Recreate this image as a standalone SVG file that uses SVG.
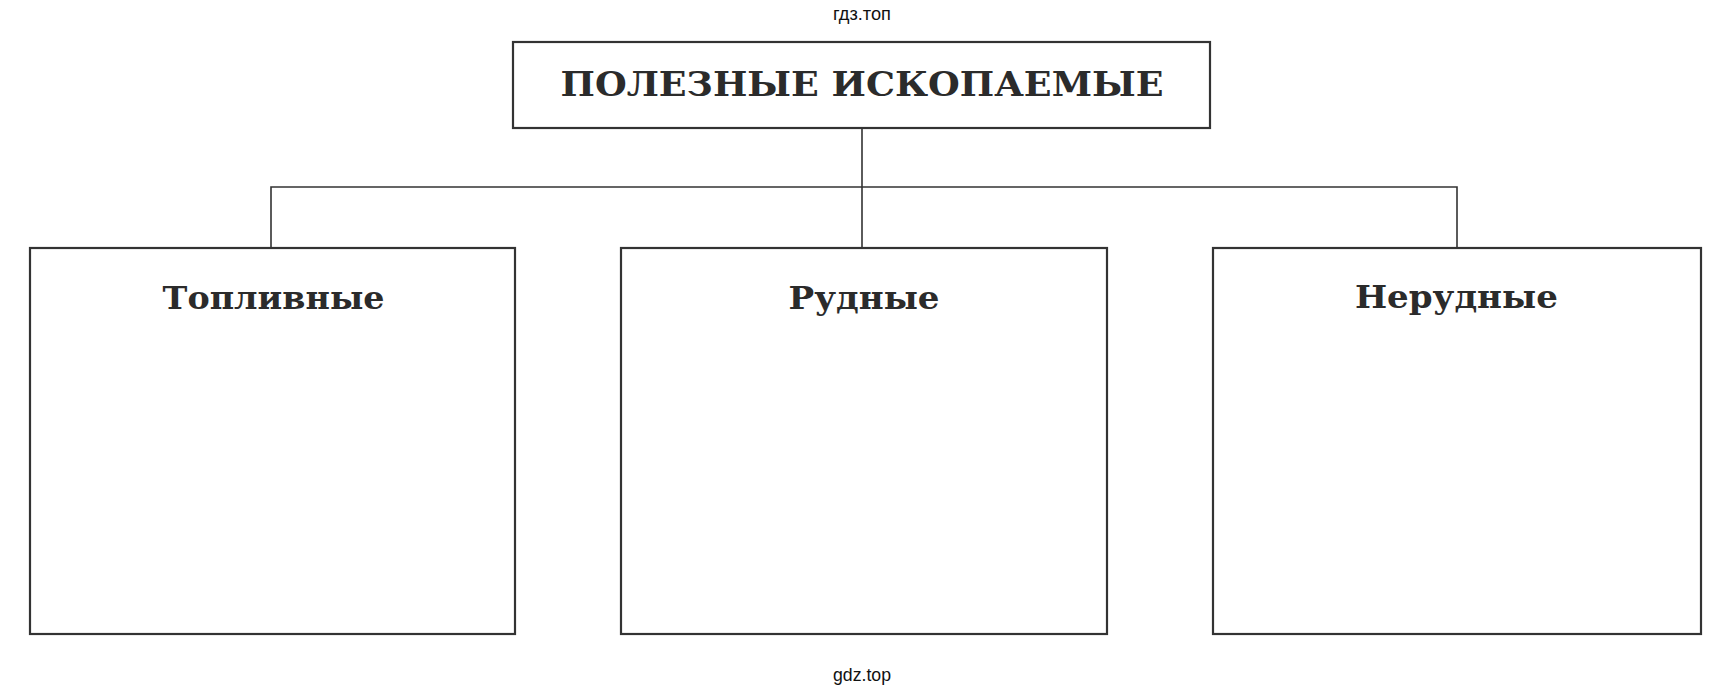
<svg xmlns="http://www.w3.org/2000/svg" width="1726" height="695" viewBox="0 0 1726 695">
<style>
.box{fill:#fff;stroke:#333;stroke-width:2.2}
.conn{fill:none;stroke:#333;stroke-width:1.6}
.t{font-family:"DejaVu Serif","Liberation Serif",serif;font-weight:bold;fill:#2b2b2b;text-anchor:middle}
.w{font-family:"Liberation Sans",Arial,sans-serif;font-size:18px;fill:#111;text-anchor:middle}
</style>
<rect width="1726" height="695" fill="#fff"/>
<text class="w" x="862" y="20" textLength="58" lengthAdjust="spacingAndGlyphs">гдз.топ</text>
<g id="connectors">
<path class="conn" d="M862 128 V187"/>
<path class="conn" d="M271 248 V187 H1457 V248"/>
<path class="conn" d="M862 187 V248"/>
</g>
<g id="root">
<rect class="box" x="513" y="42" width="697" height="86"/>
<text class="t" x="862" y="96" font-size="34" textLength="603" lengthAdjust="spacingAndGlyphs">ПОЛЕЗНЫЕ ИСКОПАЕМЫЕ</text>
</g>
<g id="fuel">
<rect class="box" x="30" y="248" width="485" height="386"/>
<text class="t" x="273.6" y="309" font-size="32" textLength="222" lengthAdjust="spacingAndGlyphs">Топливные</text>
</g>
<g id="ore">
<rect class="box" x="621" y="248" width="486" height="386"/>
<text class="t" x="864" y="309" font-size="32" textLength="151" lengthAdjust="spacingAndGlyphs">Рудные</text>
</g>
<g id="nonore">
<rect class="box" x="1213" y="248" width="488" height="386"/>
<text class="t" x="1456.4" y="308" font-size="32" textLength="203" lengthAdjust="spacingAndGlyphs">Нерудные</text>
</g>
<text class="w" x="862" y="681" textLength="58" lengthAdjust="spacingAndGlyphs">gdz.top</text>
</svg>
